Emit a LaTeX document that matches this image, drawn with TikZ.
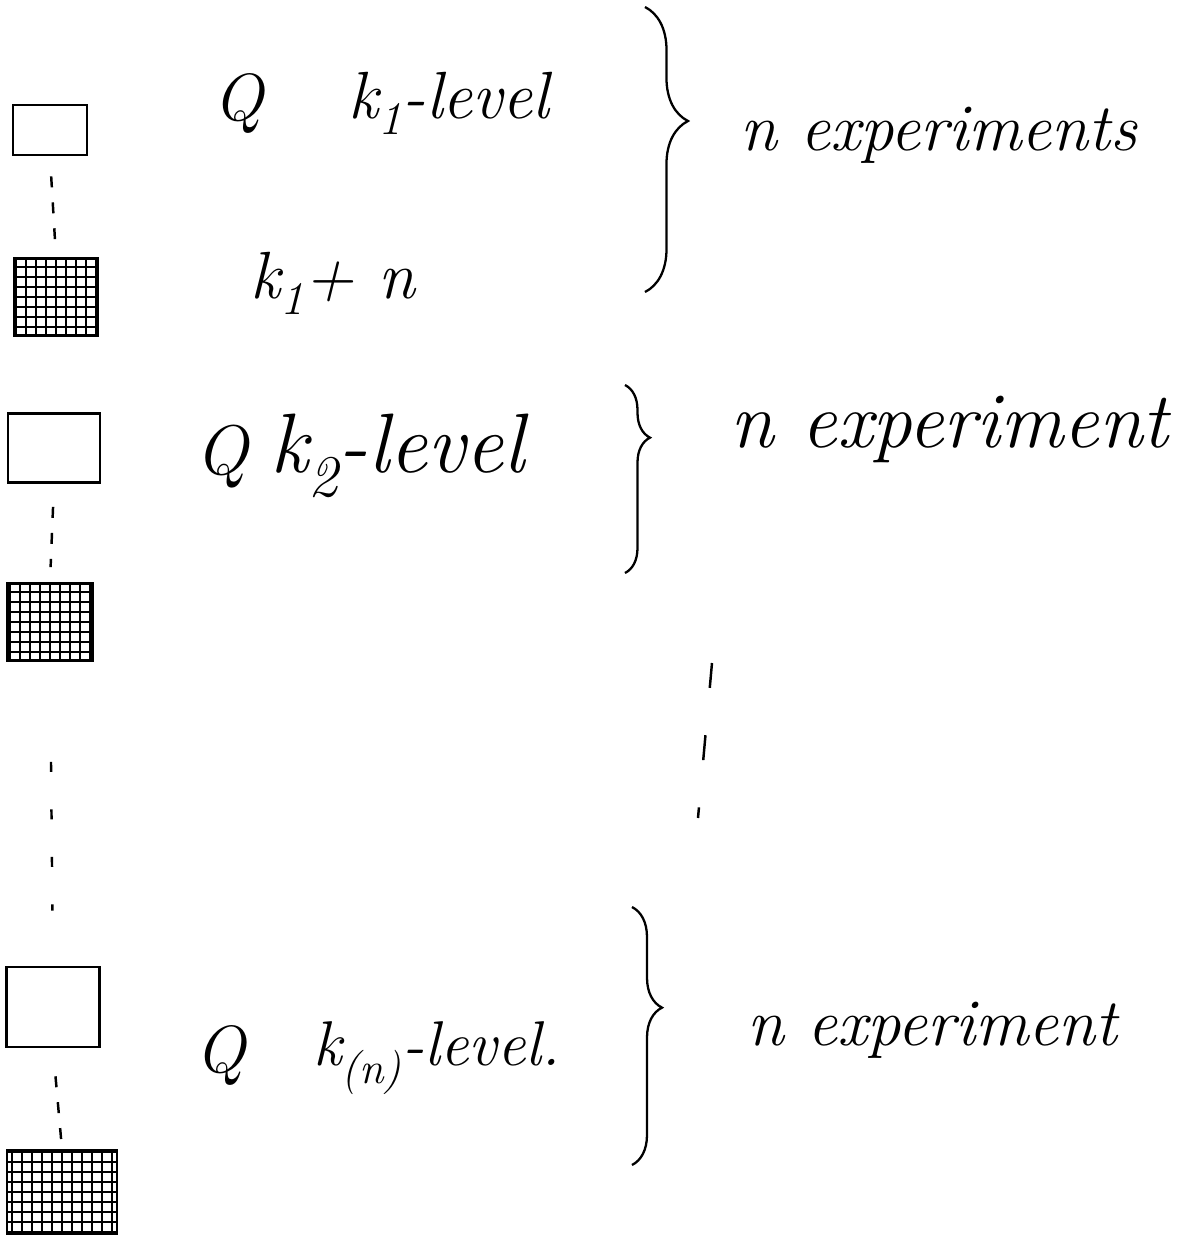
\documentclass[tikz,border=0pt]{standalone}
\usepackage{fontspec}
\usepackage{tikz}
\usetikzlibrary{positioning, decorations.pathreplacing}

\begin{document}
\begin{tikzpicture}[
  x=0.02cm, y=-0.02cm,
  plainbox/.style={rectangle, draw, line width=1.6pt, inner sep=0pt},
  gridbox/.style={rectangle, draw, line width=1.6pt, inner sep=0pt,
                  path picture={\draw[line width=1.1pt, step=0.2cm]
                    (path picture bounding box.south west) grid
                    (path picture bounding box.north east);}},
  hand/.style={font=\fontsize{#1}{#1}\selectfont\itshape,
               anchor=base west, inner sep=0pt},
  hand/.default=38,
  dashlink/.style={line width=1.4pt, dash pattern=on 0.22cm off 0.3cm},
  curly/.style={line width=1.3pt, decorate,
                decoration={brace, amplitude=#1}}
]
  \useasboundingbox (0,0) rectangle (1178,1252);

  % left column of boxes
  \node[plainbox, minimum width=1.48cm, minimum height=1.0cm] (box1) at (50,130) {};
  \node[gridbox,  minimum width=1.66cm, minimum height=1.54cm] (grid1) at (56,297) {};
  \node[plainbox, minimum width=1.84cm, minimum height=1.38cm] (box2) at (54,448) {};
  \node[gridbox,  minimum width=1.70cm, minimum height=1.54cm] (grid2) at (50,622) {};
  \node[plainbox, minimum width=1.86cm, minimum height=1.60cm] (box3) at (53,1007) {};
  \node[gridbox,  minimum width=2.20cm, minimum height=1.66cm] (grid3) at (62,1192) {};

  \draw[dashlink, shorten <=0.4cm, shorten >=0.36cm] (box1.south) -- (grid1.north);
  \draw[dashlink, shorten <=0.46cm, shorten >=0.3cm] (box2.south) -- (grid2.north);
  \draw[dashlink, dash pattern=on 0.2cm off 0.75cm,
        shorten <=2cm, shorten >=1.1cm] (grid2.south) -- (box3.north);
  \draw[dashlink, shorten <=0.56cm, shorten >=0.1cm] (box3.south) -- (grid3.north);

  % labels
  \node[hand] (q1)   at (213,120) {Q};
  \node[hand] (lev1) at (348,118) {k\textsubscript{1}-level};
  \node[hand] (sum1) at (250,298) {k\textsubscript{1}+ n};
  \node[hand] (exp1) at (740,150) {n experiments};

  \node[hand=40] (q2)   at (195,474) {Q};
  \node[hand=48] (lev2) at (270,472) {k\textsubscript{2}-level};
  \node[hand=45] (exp2) at (730,447) {n experiment};

  \node[hand] (q3)   at (195,1072) {Q};
  \node[hand=36] (lev3) at (313,1065) {k\textsubscript{(n)}-level.};
  \node[hand] (exp3) at (747,1045) {n experiment};

  % braces
  \draw[curly=0.86cm, decoration={aspect=0.4}]  (645,7) -- (645,292);
  \draw[curly=0.5cm,  decoration={aspect=0.28}] (625,385) -- (625,573);
  \draw[curly=0.6cm,  decoration={aspect=0.39}] (632,907) -- (632,1165);

  \coordinate (vdotsTop) at (712,663);
  \coordinate (vdotsBot) at (698,818);
  \draw[dashlink, dash pattern=on 0.5cm off 0.95cm] (vdotsTop) -- (vdotsBot);
\end{tikzpicture}
\end{document}
